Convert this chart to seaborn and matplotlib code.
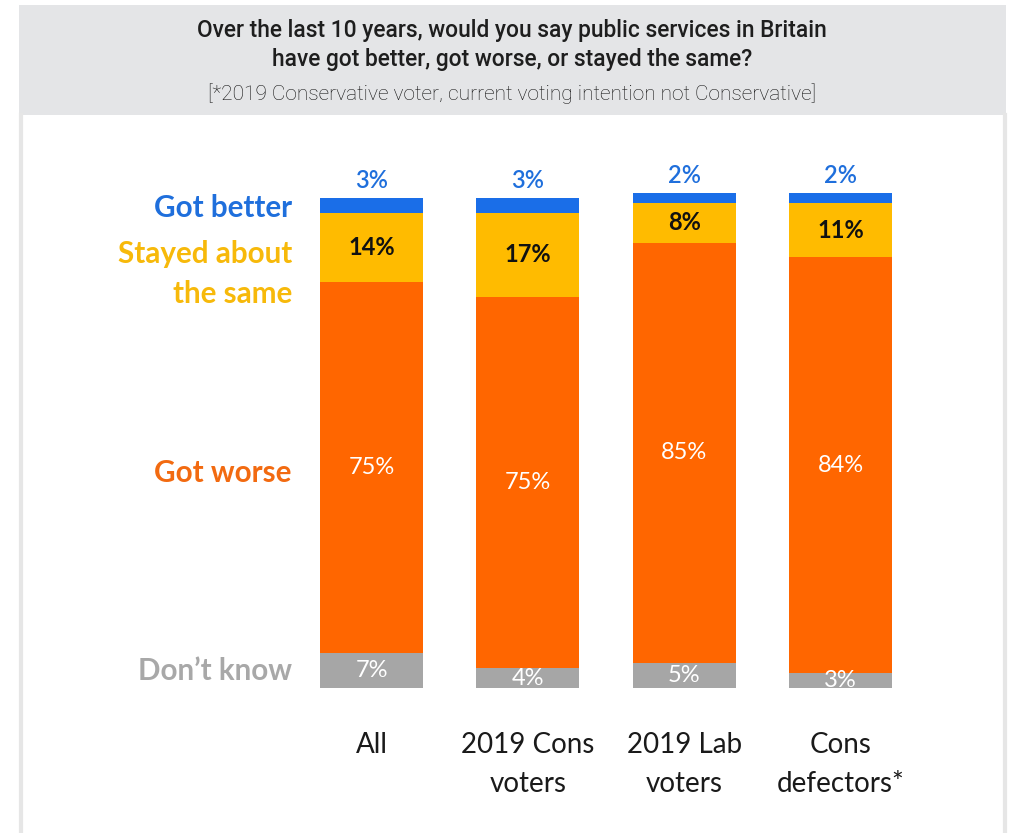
import matplotlib
matplotlib.use("Agg")
import matplotlib.pyplot as plt
import numpy as np
import pandas as pd
import seaborn as sns
from matplotlib.patches import Rectangle
from matplotlib.lines import Line2D

# ---- data -------------------------------------------------------------
groups = ["All", "2019 Cons\nvoters", "2019 Lab\nvoters", "Cons\ndefectors*"]
got_better = [3, 3, 2, 2]
stayed_same = [14, 17, 8, 11]
got_worse = [75, 75, 85, 84]
dont_know = [7, 4, 5, 3]

series_names = ["Don\u2019t know", "Got worse", "Stayed about\nthe same", "Got better"]
series_values = [dont_know, got_worse, stayed_same, got_better]
series_colors = ["#a6a6a6", "#ff6600", "#ffbb00", "#1a6ee8"]
label_colors = ["#a8a8a8", "#f26a10", "#f7b90a", "#1f6fdc"]
value_colors = ["white", "white", "#111111", "#1f6fdc"]

# ---- figure -----------------------------------------------------------
W, H = 1009, 833
fig = plt.figure(figsize=(W / 100, H / 100), dpi=100)
fig.patch.set_facecolor("white")

# header band and panel borders
fig.patches.append(Rectangle((19 / W, 1 - 115 / H), (1006 - 19) / W, 110 / H,
                             transform=fig.transFigure, facecolor="#e4e5e7",
                             edgecolor="none", zorder=0))
for xpx in (20.5, 1004.5):
    fig.lines.append(Line2D([xpx / W, xpx / W], [0, 1 - 115 / H],
                            transform=fig.transFigure, color="#e6e6e6", lw=3))

fig.text(512 / W, 1 - 45 / H,
         "Over the last 10 years, would you say public services in Britain\n"
         "have got better, got worse, or stayed the same?",
         ha="center", va="center", fontsize=16.4, family="Roboto",
         weight="medium", color="#1e1e1e", linespacing=1.36)
fig.text(512 / W, 1 - 94 / H,
         "[*2019 Conservative voter, current voting intention not Conservative]",
         ha="center", va="center", fontsize=15.0, family="Roboto",
         weight="light", color="#111111")

# ---- stacked bars -----------------------------------------------------
px_per_unit = 4.95
ax_bottom, ax_top = 688, 120
ax = fig.add_axes([20 / W, 1 - ax_bottom / H, 985 / W, (ax_bottom - ax_top) / H])
ax.set_facecolor("none")

vals = np.array(series_values, dtype=float)
tops = np.cumsum(vals, axis=0)
bottoms = tops - vals

df = pd.DataFrame({"group": np.tile(groups, len(series_names)),
                   "series": np.repeat(series_names, len(groups)),
                   "top": tops.ravel()})

# draw from the top layer down so each lower layer covers the one above it
for k in range(len(series_names) - 1, -1, -1):
    sub = df[df["series"] == series_names[k]]
    sns.barplot(data=sub, x="group", y="top", order=groups, color=series_colors[k],
                saturation=1, width=0.66, ax=ax)

ax.set_ylim(0, (ax_bottom - ax_top) / px_per_unit)
spacing = 156.33
ax.set_xlim(-(371.5 - 20) / spacing, 3 + (1005 - 840.5) / spacing)
ax.axis("off")

font = "Lato"
for i in range(len(groups)):
    for k in range(len(series_names)):
        v = vals[k, i]
        if k == 3:
            y = tops[k, i] + 3.6
            weight = "semibold"
        else:
            y = bottoms[k, i] + v / 2
            weight = "bold" if k == 2 else "normal"
        ax.text(i, y, f"{int(v)}%", ha="center", va="center", fontsize=17,
                family=font, weight=weight, color=value_colors[k], zorder=5)
    ax.text(i, -8.8, groups[i], ha="center", va="top", fontsize=20,
            family=font, color="#1a1a1a", linespacing=1.65)

# series names to the left of the first bar
name_x = -0.51
offsets = [0.0, -1.0, -5.4, -0.6]
for k in range(len(series_names)):
    y = bottoms[k, 0] + vals[k, 0] / 2 + offsets[k]
    ax.text(name_x, y, series_names[k], ha="right", va="center", fontsize=21.3,
            family=font, weight="bold", color=label_colors[k], linespacing=1.5)

fig.savefig("out.png", dpi=100)
